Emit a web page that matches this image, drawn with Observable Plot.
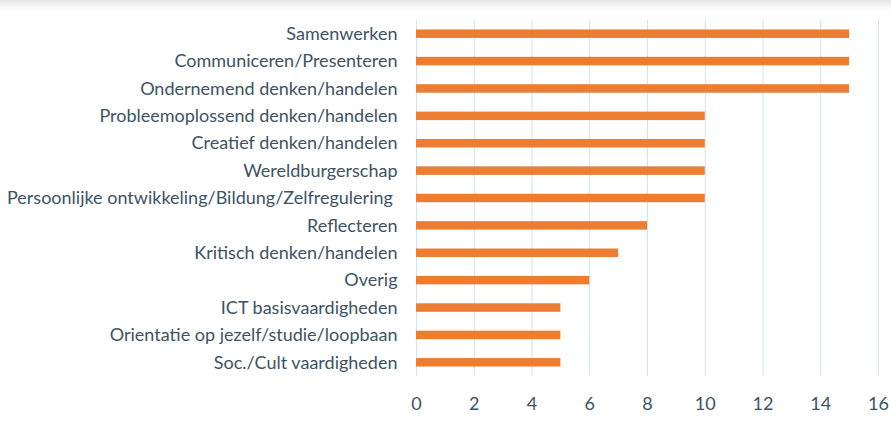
<!DOCTYPE html>
<html>
<head>
<meta charset="utf-8">
<script src="https://cdn.jsdelivr.net/npm/d3@7"></script>
<script src="https://cdn.jsdelivr.net/npm/@observablehq/plot@0.6"></script>
<style>
html, body { margin: 0; padding: 0; }
body { width: 891px; height: 425px; background: linear-gradient(to bottom, #e6e6e6 0px, #f3f3f3 5px, #ffffff 11px); }
#chart svg { display: block; background: transparent; }
</style>
</head>
<body>
<div id="chart"></div>
<script>
const categories = [
  "Samenwerken",
  "Communiceren/Presenteren",
  "Ondernemend denken/handelen",
  "Probleemoplossend denken/handelen",
  "Creatief denken/handelen",
  "Wereldburgerschap",
  "Persoonlijke ontwikkeling/Bildung/Zelfregulering ",
  "Reflecteren",
  "Kritisch denken/handelen",
  "Overig",
  "ICT basisvaardigheden",
  "Orientatie op jezelf/studie/loopbaan",
  "Soc./Cult vaardigheden"
];
const values = [15, 15, 15, 10, 10, 10, 10, 8, 7, 6, 5, 5, 5];
const xTicks = [0, 2, 4, 6, 8, 10, 12, 14, 16];

const data = categories.map((c, i) => ({category: c, value: values[i]}));

const chart = Plot.plot({
  width: 891,
  height: 425,
  marginLeft: 416,
  marginRight: 13,
  marginTop: 20,
  marginBottom: 49,
  style: {fontFamily: "Lato, sans-serif", fontSize: "18px", color: "#3d5364", background: "transparent"},
  x: {domain: [0, 16], ticks: xTicks, tickSize: 0, tickPadding: 21, label: null},
  y: {domain: categories, round: false, paddingInner: 0.69, paddingOuter: 0.345, tickSize: 0, tickPadding: 19, label: null,
      tickFormat: d => d.replace(/ $/, "\u00a0")},
  marks: [
    Plot.ruleX(xTicks, {stroke: "#cfe2ee", strokeWidth: 1, strokeOpacity: 1}),
    Plot.barX(data, {x: "value", y: "category", fill: "#ed7d31"})
  ]
});
document.getElementById("chart").appendChild(chart);
</script>
</body>
</html>
